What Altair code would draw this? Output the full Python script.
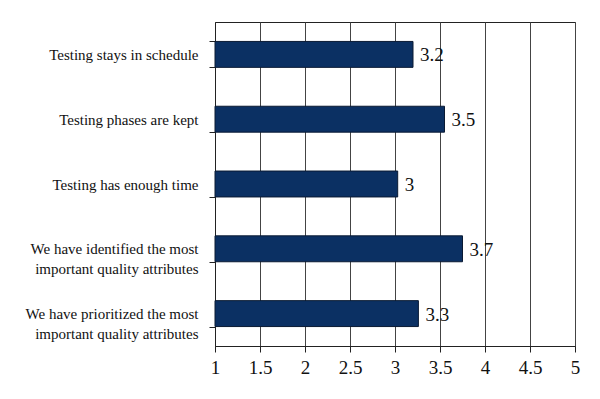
import altair as alt
import pandas as pd

categories = [
    "Testing stays in schedule",
    "Testing phases are kept",
    "Testing has enough time",
    "We have identified the most|important quality attributes",
    "We have prioritized the most|important quality attributes",
]
values = [3.2, 3.55, 3.03, 3.75, 3.26]
value_labels = ["3.2", "3.5", "3", "3.7", "3.3"]
x_ticks = [1, 1.5, 2, 2.5, 3, 3.5, 4, 4.5, 5]

df = pd.DataFrame({"cat": categories, "val": values, "lab": value_labels})

FONT = "Liberation Serif"

y_enc = alt.Y(
    "cat:N",
    sort=categories,
    title=None,
    scale=alt.Scale(paddingInner=0.6, paddingOuter=0.3),
    axis=alt.Axis(
        tickBand="extent",
        tickSize=6,
        labelPadding=11,
        labelFont=FONT,
        labelFontSize=15,
        labelColor="#111",
        labelLineHeight=20,
        labelLimit=300,
        labelExpr="split(datum.label, '|')",
        domainColor="#222",
        tickColor="#222",
        grid=False,
    ),
)

x_axis = alt.Axis(
    values=x_ticks,
    labelExpr="datum.value + ''",
    tickSize=6,
    labelPadding=6,
    labelFont=FONT,
    labelFontSize=19,
    labelColor="#111",
    labelFlush=False,
    domainColor="#222",
    tickColor="#222",
    grid=True,
    gridColor="#444",
    gridWidth=1,
)

bars = alt.Chart(df).mark_bar(
    color="#0b3063", stroke="#0a1a33", strokeWidth=1
).encode(
    y=y_enc,
    x=alt.X("val:Q", title=None, scale=alt.Scale(domain=[1, 5], nice=False, zero=False), axis=x_axis),
    x2=alt.datum(1),
)

text = alt.Chart(df).mark_text(
    align="left", baseline="middle", dx=7, dy=1, font=FONT, fontSize=19, color="#111"
).encode(y=alt.Y("cat:N", sort=categories), x="val:Q", text="lab:N")

chart = (
    alt.layer(bars, text)
    .properties(
        width=360,
        height=324,
        autosize=alt.AutoSizeParams(type="none"),
        padding={"left": 207, "top": 14, "right": 17, "bottom": 45},
    )
    .configure_view(stroke="#222", strokeWidth=1)
)

chart.save("out.html", embed_options={"renderer": "svg", "actions": False})
